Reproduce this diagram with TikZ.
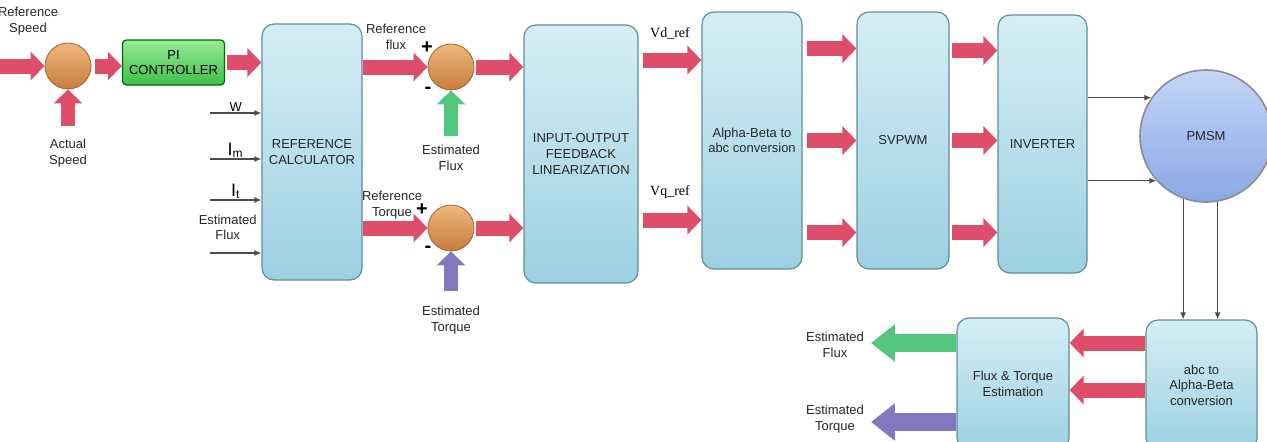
\documentclass[tikz,border=0pt]{standalone}
\usepackage{fontspec}
\setmainfont{Liberation Sans}
\newfontfamily\timesfont{Liberation Serif}
\usetikzlibrary{arrows.meta,positioning,calc}

\definecolor{flowpink}{RGB}{222,78,106}
\definecolor{fluxgreen}{RGB}{82,198,124}
\definecolor{torqueviolet}{RGB}{130,120,192}
\definecolor{boxedge}{RGB}{96,142,152}
\definecolor{boxtop}{RGB}{214,238,245}
\definecolor{boxbottom}{RGB}{156,208,225}
\definecolor{pitop}{RGB}{150,234,150}
\definecolor{pibottom}{RGB}{62,192,74}
\definecolor{sumtop}{RGB}{238,184,122}
\definecolor{sumbottom}{RGB}{200,124,62}
\definecolor{motortop}{RGB}{196,214,248}
\definecolor{motorbottom}{RGB}{138,168,230}

\begin{document}
\begin{tikzpicture}[
    x=0.5pt, y=-0.5pt,
    font=\fontsize{6.5}{7.8}\selectfont,
    block/.style={draw=boxedge, line width=.6pt, rounded corners=6pt, align=center,
      top color=boxtop, bottom color=boxbottom, text=black!85, inner sep=1pt},
    ctrl/.style={draw=green!40!black, line width=.6pt, rounded corners=2pt, align=center,
      top color=pitop, bottom color=pibottom, minimum width=46.5pt, minimum height=22.5pt},
    sum/.style={circle, draw=sumbottom!80!black, line width=.4pt, minimum size=23pt,
      top color=sumtop, bottom color=sumbottom, inner sep=0pt},
    lbl/.style={align=center, text=black!85},
    sign/.style={font=\fontsize{10}{10}\selectfont\bfseries, inner sep=0pt},
    vlbl/.style={font=\timesfont\fontsize{7}{8}\selectfont},
    flow/.style={draw=flowpink, line width=7.5pt, -{Triangle[length=7pt,width=14pt]}},
    upflow/.style={line width=7pt, -{Triangle[length=7pt,width=14pt]}},
    outflow/.style={line width=9pt, -{Triangle[length=12pt,width=18pt]}},
    sig/.style={draw=black!70, line width=.6pt, -{Latex[length=3.5pt,width=3pt]}}
  ]
    \useasboundingbox (0,0) rectangle (1267,441);

    \node[sum] (sum1) at (68,66) {};
    \node[ctrl] (pi) at (173.5,62.5) {PI\\CONTROLLER};
    \node[block, minimum width=50pt, minimum height=128pt] (refcalc) at (312,152) {REFERENCE\\CALCULATOR};
    \node[sum] (sum2) at (451,67) {};
    \node[sum] (sum3) at (451,228) {};
    \node[block, minimum width=57pt, minimum height=129pt] (io) at (581,154) {INPUT-OUTPUT\\FEEDBACK\\LINEARIZATION};
    \node[block, minimum width=50pt, minimum height=128.5pt] (alpha) at (752,140.5) {Alpha-Beta to\\abc conversion};
    \node[block, minimum width=46pt, minimum height=128.5pt] (svpwm) at (903,140.5) {SVPWM};
    \node[block, minimum width=44.5pt, minimum height=129pt] (inverter) at (1042.5,144) {INVERTER};
    \node[circle, draw=black!45, line width=.8pt, minimum size=66pt, top color=motortop,
      bottom color=motorbottom, text=black!85] (pmsm) at (1206,136) {PMSM};
    \node[block, minimum width=55.5pt, minimum height=65pt] (abc) at (1201.5,385) {abc to\\Alpha-Beta\\conversion};
    \node[block, minimum width=56pt, minimum height=66pt] (fest) at (1013,384) {Flux \& Torque\\Estimation};

    \node[lbl] (refspeed) at (28,21) {Reference\\Speed};
    \node[lbl] (actual) at (68,153) {Actual\\Speed};
    \node[lbl] (refflux) at (396,37) {Reference\\flux};
    \node[lbl] (reftorque) at (392,205) {Reference\\Torque};
    \node[lbl] (estflux) at (451,158) {Estimated\\Flux};
    \node[lbl] (esttorque) at (451,320) {Estimated\\Torque};
    \node[lbl] (fluxout) at (835,345) {Estimated\\Flux};
    \node[lbl] (torqueout) at (835,419) {Estimated\\Torque};
    \node[sign] (plus1) at (427,48) {+};
    \node[sign] (minus1) at (428,90) {-};
    \node[sign] (plus2) at (422,210) {+};
    \node[sign] (minus2) at (428,249) {-};

    \coordinate (refin) at (-4,66);
    \coordinate (win) at (210,113);
    \coordinate (imin) at (210,159);
    \coordinate (itin) at (210,200);
    \coordinate (efin) at (210,253);

    \draw[flow] (refin) -- (sum1.west);
    \draw[flow, shorten <=2pt] (sum1.east) -- (sum1.east -| pi.west);
    \draw[flow, shorten <=1pt] (pi.east) -- (pi.east -| refcalc.west);
    \draw[flow] (refcalc.east |- sum2) -- (sum2.west);
    \draw[flow] (refcalc.east |- sum3) -- (sum3.west);
    \draw[flow, shorten <=1pt] (sum2.east) -- (sum2.east -| io.west);
    \draw[flow, shorten <=1pt] (sum3.east) -- (sum3.east -| io.west);
    \draw[flow, shorten <=2pt] ([yshift=47pt]io.east) -- ([yshift=47pt]io.east -| alpha.west)
      node[midway, above=3.5pt, vlbl] {Vd\_ref};
    \draw[flow, shorten <=2pt] ([yshift=-33pt]io.east) -- ([yshift=-33pt]io.east -| alpha.west)
      node[midway, above=3.5pt, vlbl] {Vq\_ref};
    \foreach \s in {46,0,-46}
      \draw[flow, shorten <=2pt] ([yshift=\s pt]alpha.east) -- ([yshift=\s pt]alpha.east -| svpwm.west);
    \foreach \s in {45,0,-46}
      \draw[flow, shorten <=1pt] ([yshift=\s pt]svpwm.east) -- ([yshift=\s pt]svpwm.east -| inverter.west);
    \draw[flow] ([yshift=21pt]abc.west) -- ([yshift=21pt]abc.west -| fest.east);
    \draw[flow] ([yshift=-2.5pt]abc.west) -- ([yshift=-2.5pt]abc.west -| fest.east);

    \draw[upflow, draw=flowpink, shorten <=3pt] (actual.north) -- (sum1.south);
    \draw[upflow, draw=fluxgreen, shorten <=1pt] (estflux.north) -- (sum2.south);
    \draw[upflow, draw=torqueviolet, shorten <=4pt] (esttorque.north) -- (sum3.south);
    \draw[outflow, draw=fluxgreen] ([yshift=20.5pt]fest.west) -- ([yshift=20.5pt]fest.west -| fluxout.east);
    \draw[outflow, draw=torqueviolet] ([yshift=-19pt]fest.west) -- ([yshift=-19pt]fest.west -| torqueout.east);

    \draw[sig] (win) -- (win -| refcalc.west) node[midway, above=0.5pt, inner sep=0pt] {W};
    \draw[sig] (imin) -- (imin -| refcalc.west) node[midway, above=0.5pt, inner sep=0pt] {\fontsize{9}{9}\selectfont I\textsubscript{m}};
    \draw[sig] (itin) -- (itin -| refcalc.west) node[midway, above=0.5pt, inner sep=0pt] {\fontsize{9}{9}\selectfont I\textsubscript{t}};
    \draw[sig] (efin) -- (efin -| refcalc.west) node[midway, above=3pt, lbl, xshift=-4pt] {Estimated\\Flux};
    \draw[sig] (inverter.east |- pmsm.145) -- (pmsm.145);
    \draw[sig] (inverter.east |- pmsm.222) -- (pmsm.222);
    \draw[sig] (pmsm.-110) -- (pmsm.-110 |- abc.north);
    \draw[sig] (pmsm.-80) -- (pmsm.-80 |- abc.north);
  \end{tikzpicture}
\end{document}
